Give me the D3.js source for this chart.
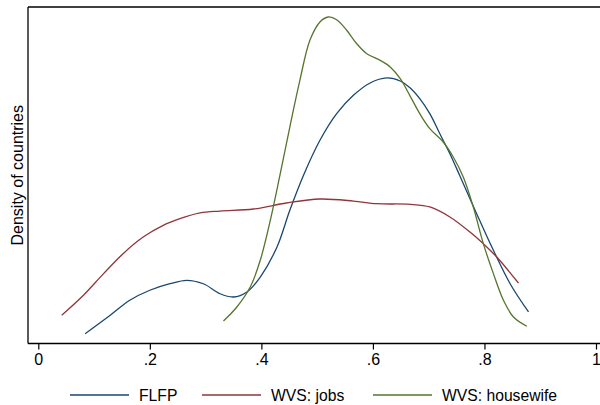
<!DOCTYPE html>
<html><head><meta charset="utf-8">
<script src="https://cdn.jsdelivr.net/npm/d3@7"></script>
<style>
html,body{margin:0;padding:0;background:#fff;}
svg{display:block;font-family:"Liberation Sans",Arial,Helvetica,sans-serif;}
</style></head>
<body>
<svg id="chart" width="600" height="405"></svg>
<script>
// ---- data ----
const tickValues = [0, 0.2, 0.4, 0.6, 0.8, 1];
const tickLabels = ["0", ".2", ".4", ".6", ".8", "1"];
const seriesNames = ["FLFP", "WVS: jobs", "WVS: housewife"];
const seriesColors = ["#1a476f", "#90353b", "#55752f"];

const flfpX = [0.084,0.129,0.164,0.200,0.236,0.266,0.296,0.326,0.350,0.374,0.398,0.428,0.451,0.475,0.505,0.535,0.565,0.595,0.625,0.649,0.667,0.684,0.702,0.720,0.738,0.756,0.786,0.816,0.846,0.879];
const flfpY = [0.096,0.277,0.424,0.522,0.586,0.620,0.586,0.488,0.456,0.505,0.652,0.946,1.306,1.643,1.993,2.254,2.434,2.555,2.604,2.574,2.506,2.401,2.254,2.057,1.861,1.643,1.273,0.914,0.586,0.309];

const jobsX = [0.042,0.081,0.117,0.152,0.188,0.224,0.254,0.290,0.326,0.386,0.445,0.505,0.565,0.607,0.667,0.702,0.738,0.774,0.798,0.822,0.861];
const jobsY = [0.277,0.473,0.685,0.881,1.044,1.159,1.224,1.280,1.299,1.319,1.378,1.417,1.397,1.371,1.365,1.339,1.241,1.093,0.979,0.848,0.593];

const hwX = [0.332,0.356,0.380,0.398,0.416,0.433,0.451,0.469,0.487,0.505,0.520,0.535,0.553,0.571,0.589,0.613,0.631,0.649,0.667,0.684,0.702,0.726,0.744,0.762,0.780,0.798,0.816,0.834,0.852,0.876];
const hwY = [0.221,0.358,0.554,0.816,1.208,1.643,2.123,2.581,2.973,3.153,3.202,3.175,3.072,2.940,2.842,2.777,2.712,2.597,2.424,2.254,2.107,1.976,1.829,1.633,1.339,0.979,0.685,0.424,0.260,0.169];

const xsList = [flfpX, jobsX, hwX];
const ysList = [flfpY, jobsY, hwY];

// ---- layout ----
const svg = d3.select("#chart");
const pL = 28, pT = 7, pB = 343.5, pR = 600;
const x = d3.scaleLinear().domain([0, 1]).range([38.3, 596]);
const y = d3.scaleLinear().domain([0, 3.3]).range([pB, pT]);

// frame
svg.append("line").attr("x1", pL).attr("x2", pR).attr("y1", pT).attr("y2", pT)
  .attr("stroke", "#000").attr("stroke-width", 1.3);
svg.append("line").attr("x1", pL).attr("x2", pL).attr("y1", pT).attr("y2", pB)
  .attr("stroke", "#000").attr("stroke-width", 1.3);

// curves
const line = d3.line().x(d => x(d[0])).y(d => y(d[1])).curve(d3.curveCatmullRom.alpha(0.5));
seriesNames.forEach((name, i) => {
  const pts = xsList[i].map((v, j) => [v, ysList[i][j]]);
  svg.append("path").datum(pts).attr("d", line)
    .attr("fill", "none").attr("stroke", seriesColors[i]).attr("stroke-width", 1.3);
});

// x axis
const ax = svg.append("g").attr("transform", `translate(0,${pB})`)
  .call(d3.axisBottom(x).tickValues(tickValues).tickSize(6).tickPadding(4)
    .tickFormat((d, i) => tickLabels[i]));
ax.select(".domain").remove();
ax.append("line").attr("x1", pL).attr("x2", pR).attr("y1", 0).attr("y2", 0)
  .attr("stroke", "#000").attr("stroke-width", 1.4);
ax.selectAll(".tick line").attr("stroke", "#000").attr("stroke-width", 1.2);
ax.selectAll(".tick text").attr("fill", "#000").style("font-size", "16px")
  .style("font-family", "'Liberation Sans',Arial,sans-serif");

// y title
svg.append("text").attr("transform", `translate(23,${(pT + pB) / 2}) rotate(-90)`)
  .attr("text-anchor", "middle").style("font-size", "16px").attr("fill", "#000")
  .text("Density of countries");

// legend
const legX = [70, 202, 373];
seriesNames.forEach((name, i) => {
  svg.append("line").attr("x1", legX[i]).attr("x2", legX[i] + 59).attr("y1", 395).attr("y2", 395)
    .attr("stroke", seriesColors[i]).attr("stroke-width", 1.3);
  svg.append("text").attr("x", legX[i] + 69).attr("y", 400.5).style("font-size", "15.7px")
    .attr("fill", "#000").text(name);
});
</script>
</body></html>
